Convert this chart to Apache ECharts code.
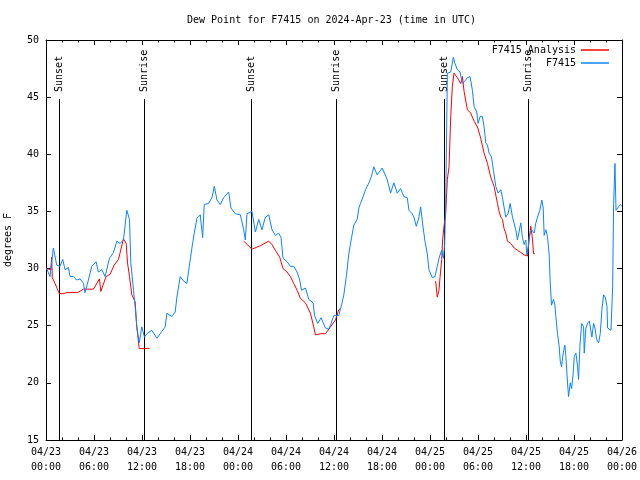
<!DOCTYPE html>
<html>
<head>
<meta charset="utf-8">
<script src="https://cdn.jsdelivr.net/npm/echarts@6/dist/echarts.min.js"></script>
<style>
html,body{margin:0;padding:0;background:#fff;}
#chart{width:640px;height:480px;}
</style>
</head>
<body>
<div id="chart"></div>
<script>
// ---- data (hours since 2024-04-23 00:00 UTC) ----
var blueHours = [0.08,0.50,0.92,1.34,1.75,2.09,2.38,2.80,3.01,3.42,3.84,4.26,4.68,4.88,5.30,5.72,6.26,6.55,6.97,7.39,7.93,8.43,8.85,9.27,9.68,10.10,10.44,10.60,10.94,11.14,11.35,11.65,11.98,12.31,12.61,13.23,13.86,14.48,14.90,15.11,15.74,16.15,16.36,16.78,17.20,17.61,17.91,18.24,18.53,18.87,19.28,19.58,19.78,20.33,20.74,21.04,21.37,21.79,22.20,22.83,23.12,23.67,24.29,24.71,24.92,25.12,25.75,26.17,26.59,27.00,27.42,27.84,28.25,28.67,29.09,29.38,29.63,30.13,30.55,30.97,31.39,31.72,31.93,32.43,32.85,33.39,33.56,33.97,34.39,34.93,35.35,35.64,35.98,36.60,36.94,37.23,37.56,37.85,38.19,38.48,38.90,39.11,39.31,39.65,39.94,40.36,40.65,40.98,41.40,42.03,42.65,43.07,43.49,43.91,44.32,44.74,45.16,45.37,45.78,45.99,46.29,46.62,46.83,47.12,47.37,47.66,47.87,48.29,48.62,48.91,49.16,49.46,49.67,49.83,49.96,50.17,50.59,50.92,51.09,51.42,51.75,52.05,52.46,52.67,53.01,53.30,53.51,53.84,54.01,54.26,54.55,54.76,54.97,55.18,55.39,55.68,55.93,56.22,56.51,56.85,57.06,57.47,57.76,58.02,58.31,58.72,58.93,59.35,59.56,59.77,59.98,60.10,60.27,60.39,60.69,61.02,61.23,61.44,61.73,61.98,62.15,62.27,62.48,62.69,62.90,63.02,63.19,63.44,63.61,63.73,63.94,64.15,64.28,64.44,64.65,64.86,64.99,65.19,65.32,65.53,65.70,65.90,66.03,66.24,66.45,66.57,66.74,66.95,67.20,67.28,67.49,67.70,67.91,68.12,68.24,68.45,68.62,68.83,69.08,69.28,69.49,69.70,69.91,70.12,70.20,70.41,70.62,70.83,70.95,71.12,71.25,71.45,71.79,71.95];
var blueValues = [30.0,29.3,31.8,30.3,30.2,30.8,29.9,30.1,29.3,29.3,29.0,29.1,28.7,27.9,29.0,30.2,30.6,29.7,29.9,29.3,30.9,31.4,32.4,32.2,32.5,35.1,34.3,30.5,28.1,26.7,24.9,23.5,24.9,24.0,24.3,24.6,23.9,24.5,24.9,26.1,25.8,26.2,27.5,29.3,28.9,28.7,30.2,31.8,33.1,34.4,34.7,32.7,35.6,35.7,36.2,37.2,36.0,35.6,36.2,36.7,35.3,34.8,34.7,33.4,32.5,34.8,35.0,33.2,34.3,33.4,34.5,34.7,33.4,32.9,33.1,32.7,30.9,30.6,30.2,30.2,29.7,29.0,28.1,28.3,27.3,27.0,25.9,25.2,25.7,24.8,24.7,25.2,25.9,25.9,26.8,27.7,29.4,31.3,32.7,33.8,34.3,35.3,35.7,36.3,36.9,37.5,38.0,38.9,38.2,38.8,37.8,36.6,37.5,36.6,37.0,36.3,36.2,35.1,34.8,34.5,33.7,34.5,35.4,33.7,32.4,31.3,29.9,29.2,29.3,30.2,31.0,31.6,30.9,32.1,35.4,47.1,47.2,48.5,48.0,47.4,47.2,46.2,46.5,46.7,46.8,45.6,44.2,43.7,42.7,43.3,43.3,42.4,41.0,40.8,40.1,39.8,38.6,37.2,36.6,36.9,36.2,34.5,34.8,35.7,34.5,33.4,32.5,34.0,32.7,32.1,32.5,31.2,31.9,32.8,33.4,33.1,34.0,34.5,35.1,36.0,35.3,32.9,33.4,32.8,31.2,28.9,26.8,27.3,26.8,25.8,24.3,23.2,21.9,21.4,22.6,23.3,22.3,20.0,18.8,20.0,19.5,20.8,22.3,22.6,21.4,20.3,23.2,25.2,24.9,22.6,24.8,25.2,25.4,25.4,24.0,25.2,24.8,23.8,23.5,24.3,26.4,27.7,27.5,26.7,24.8,24.9,24.6,28.3,35.6,39.2,35.1,35.0,35.6,35.5];

// null marks a gap in the analysis series
var redHours = [0.05,0.60,0.71,0.79,1.13,1.67,2.17,2.59,3.97,4.68,5.93,6.68,6.85,7.51,8.01,8.52,9.06,9.68,10.02,10.19,10.44,10.73,11.14,11.35,11.65,12.94,18.0,24.71,25.75,26.79,27.84,28.25,28.67,29.21,29.63,30.13,30.55,30.97,31.39,31.80,32.43,33.05,33.47,33.68,34.31,34.93,35.56,36.18,36.60,36.81,42.0,48.71,48.91,49.12,49.25,49.46,49.58,49.75,49.96,50.17,50.38,50.59,50.79,51.00,51.42,51.84,52.05,52.26,52.67,53.09,53.51,53.93,54.34,54.76,55.18,55.59,56.01,56.43,56.64,56.85,57.06,57.26,57.47,57.68,58.10,58.52,58.93,59.35,59.77,60.19,60.39,60.60,60.73,60.81,60.94,61.10];
var redValues = [30.0,29.9,31.0,29.2,28.7,27.8,27.8,27.9,27.9,28.2,28.2,29.1,28.0,29.3,29.5,30.3,30.8,32.6,32.2,30.5,29.3,27.7,27.1,24.9,23.0,23.0,null,32.4,31.7,32.0,32.4,32.1,31.6,31.0,30.0,29.7,29.3,28.7,28.1,27.4,27.0,26.1,24.9,24.2,24.3,24.3,24.9,25.5,26.4,26.5,null,28.9,27.5,28.1,29.2,30.8,32.5,33.7,34.8,37.8,38.9,43.3,45.9,47.1,46.7,46.2,46.8,45.5,43.9,43.6,42.9,42.4,41.4,40.1,39.2,38.0,37.2,35.7,35.0,34.5,34.3,33.5,33.1,32.4,32.2,31.8,31.6,31.4,31.2,31.1,32.5,33.7,33.8,32.6,31.3,31.3];

var eventHours = [1.65, 12.27, 25.66, 36.22, 49.7, 60.22];
var eventLabels = ['Sunset','Sunrise','Sunset','Sunrise','Sunset','Sunrise'];

var xTickLabels = ['04/23\n00:00','04/23\n06:00','04/23\n12:00','04/23\n18:00','04/24\n00:00','04/24\n06:00','04/24\n12:00','04/24\n18:00','04/25\n00:00','04/25\n06:00','04/25\n12:00','04/25\n18:00','04/26\n00:00'];

var titleText = 'Dew Point for F7415 on 2024-Apr-23 (time in UTC)';
var seriesNames = ['F7415 Analysis', 'F7415'];

// ---- build ----
function pairs(xs, ys){ var out=[]; for (var i=0;i<xs.length;i++){ out.push([xs[i], ys[i]]); } return out; }
var FONT = '"DejaVu Sans Mono", monospace';
var RED = '#ff0000', BLUE = '#0a84ff';
var EVENT_TOP = 44.84; // value at which the event lines start

var chart = echarts.init(document.getElementById('chart'), null, {renderer:'canvas'});

function xAxisBase(pos, labels){
  return {
    type:'value', min:0, max:72, interval:6, position:pos,
    axisLine:{show:true, onZero:false, lineStyle:{color:'#000', width:1}},
    axisTick:{show:true, inside:true, length:5, lineStyle:{color:'#000'}},
    minorTick:{show:true, splitNumber:3, length:2.5, lineStyle:{color:'#000'}},
    splitLine:{show:false},
    axisLabel:{show:labels, color:'#000', fontFamily:FONT, fontSize:10, lineHeight:15, margin:5,
      formatter:function(v){ return xTickLabels[Math.round(v/6)] || ''; }}
  };
}
function yAxisBase(pos, labels){
  var a = {
    type:'value', min:15, max:50, interval:5, position:pos,
    axisLine:{show:true, onZero:false, lineStyle:{color:'#000', width:1}},
    axisTick:{show:true, inside:true, length:5, lineStyle:{color:'#000'}},
    splitLine:{show:false},
    axisLabel:{show:labels, color:'#000', fontFamily:FONT, fontSize:10, margin:7}
  };
  if (labels){
    a.name = 'degrees F'; a.nameLocation = 'middle'; a.nameGap = 33;
    a.nameTextStyle = {color:'#000', fontFamily:FONT, fontSize:10};
  }
  return a;
}

var option = {
  animation:false,
  backgroundColor:'#fff',
  title:{text:titleText, left:187, top:15, padding:0,
    textStyle:{color:'#000', fontFamily:FONT, fontSize:10, fontWeight:'normal'}},
  grid:{left:46, right:18, top:40, bottom:40, containLabel:false, outerBoundsMode:'none'},
  legend:[
    {data:[seriesNames[0]], right:31, top:45, orient:'vertical', align:'right', padding:0,
     itemWidth:28, itemHeight:1.5, icon:'rect', itemGap:0,
     textStyle:{color:'#000', fontFamily:FONT, fontSize:10}},
    {data:[seriesNames[1]], right:31, top:58, orient:'vertical', align:'right', padding:0,
     itemWidth:28, itemHeight:1.5, icon:'rect', itemGap:0,
     textStyle:{color:'#000', fontFamily:FONT, fontSize:10}}
  ],
  xAxis:[xAxisBase('bottom', true), xAxisBase('top', false)],
  yAxis:[yAxisBase('left', true), yAxisBase('right', false)],
  series:[
    {type:'custom', name:'events', xAxisIndex:0, yAxisIndex:0, silent:true, z:1,
     data: eventHours.map(function(h,i){ return [h, EVENT_TOP, i]; }),
     renderItem:function(params, api){
       var h = api.value(0);
       var top = api.coord([h, EVENT_TOP]);
       var bot = api.coord([h, 15]);
       var x = Math.round(top[0]) + 0.5;
       return {type:'group', children:[
         {type:'line', shape:{x1:x, y1:top[1], x2:x, y2:bot[1]}, style:{stroke:'#000', lineWidth:1}},
         {type:'text', x:x, y:top[1]-7, rotation:Math.PI/2,
          style:{text:eventLabels[api.value(2)], fill:'#000', font:'10px ' + FONT, align:'left', verticalAlign:'middle'}}
       ]};
     }},
    {type:'line', name:seriesNames[0], data:pairs(redHours, redValues), showSymbol:false, symbol:'none',
     connectNulls:false, color:RED, lineStyle:{color:RED, width:1}, z:2},
    {type:'line', name:seriesNames[1], data:pairs(blueHours, blueValues), showSymbol:false, symbol:'none',
     color:BLUE, lineStyle:{color:BLUE, width:1}, z:3}
  ]
};
chart.setOption(option);
</script>
</body>
</html>
